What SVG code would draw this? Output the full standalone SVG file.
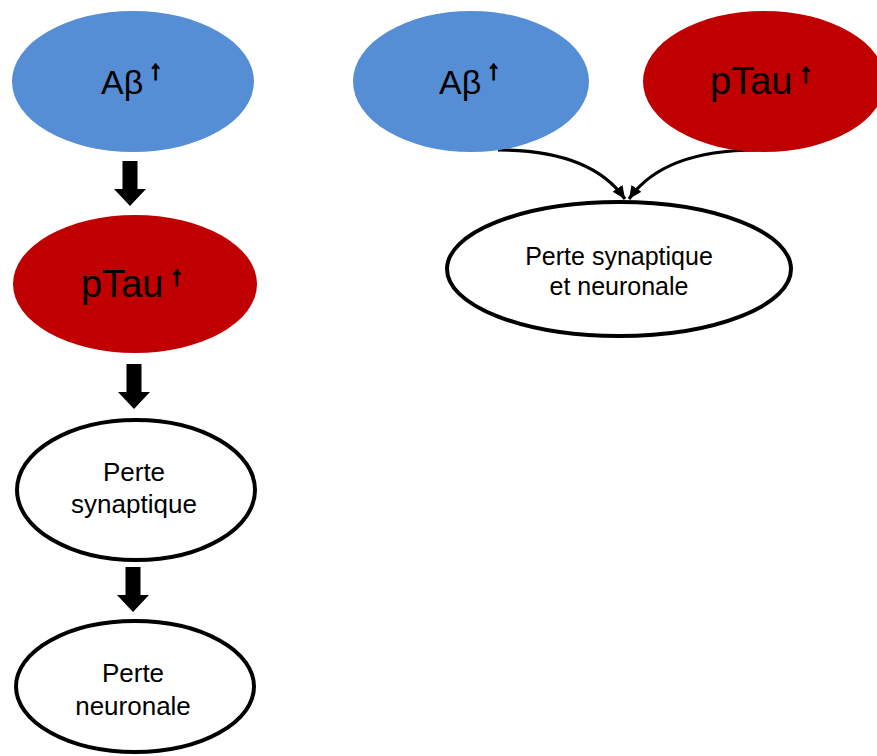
<svg xmlns="http://www.w3.org/2000/svg" width="877" height="756" viewBox="0 0 877 756">
<style>
.blue{fill:#558ED5}
.red{fill:#C00000}
.white{fill:#FFFFFF;stroke:#000000;stroke-width:4}
.big{font-family:"Liberation Sans",Arial,sans-serif;font-size:34px;fill:#000}
.bigt{font-family:"Liberation Sans",Arial,sans-serif;font-size:38px;fill:#000}
.sup{font-size:27px;font-weight:bold;stroke:#000;stroke-width:1.3;stroke-linejoin:miter}
.lbl{font-family:"Liberation Sans",Arial,sans-serif;font-size:26px;fill:#000;text-anchor:middle}
.lblr{font-family:"Liberation Sans",Arial,sans-serif;font-size:25px;fill:#000;text-anchor:middle}
.conn{fill:none;stroke:#000;stroke-width:3.2}
</style>
<defs>
<path id="blk" d="M-7.5,0 L7.5,0 L7.5,28 L16,28 L0,45 L-16,28 L-7.5,28 Z" fill="#000"/>
<marker id="ah" markerUnits="userSpaceOnUse" markerWidth="16" markerHeight="14" refX="13" refY="6" orient="auto">
<path d="M0,0 L13,6 L0,12 Z" fill="#000"/>
</marker>
</defs>
<g id="connectors">
<use href="#blk" x="130" y="161"/>
<use href="#blk" x="134" y="364"/>
<use href="#blk" x="133" y="567"/>
<path class="conn" d="M498,150 C560,150 602,166 625,199" marker-end="url(#ah)"/>
<path class="conn" d="M757,150 C695,150 652,166 629,199" marker-end="url(#ah)"/>
</g>
<g id="n-abeta-left">
<ellipse class="blue" cx="133" cy="81.5" rx="121" ry="70.5"/>
<text class="big" x="101" y="94">Aβ<tspan class="sup" x="149" y="79">↑</tspan></text>
</g>
<g id="n-ptau-left">
<ellipse class="red" cx="135" cy="284" rx="122" ry="69"/>
<text class="bigt" x="81" y="297">pTau<tspan class="sup" x="170" y="285">↑</tspan></text>
</g>
<g id="n-synaptique">
<ellipse class="white" cx="136" cy="490" rx="119" ry="70"/>
<text class="lbl" x="134" y="481">Perte</text>
<text class="lbl" x="134" y="513">synaptique</text>
</g>
<g id="n-neuronale">
<ellipse class="white" cx="135" cy="686.5" rx="119" ry="65.5"/>
<text class="lbl" x="133" y="682">Perte</text>
<text class="lbl" x="133" y="715">neuronale</text>
</g>
<g id="n-abeta-right">
<ellipse class="blue" cx="471" cy="81.5" rx="118" ry="70.5"/>
<text class="big" x="439" y="94">Aβ<tspan class="sup" x="487" y="79">↑</tspan></text>
</g>
<g id="n-ptau-right">
<ellipse class="red" cx="764" cy="81.5" rx="121" ry="70.5"/>
<text class="bigt" x="710" y="94">pTau<tspan class="sup" x="799" y="82">↑</tspan></text>
</g>
<g id="n-perte-both">
<ellipse class="white" cx="619" cy="269" rx="172" ry="67"/>
<text class="lblr" x="619" y="265">Perte synaptique</text>
<text class="lblr" x="619" y="295">et neuronale</text>
</g>
</svg>
